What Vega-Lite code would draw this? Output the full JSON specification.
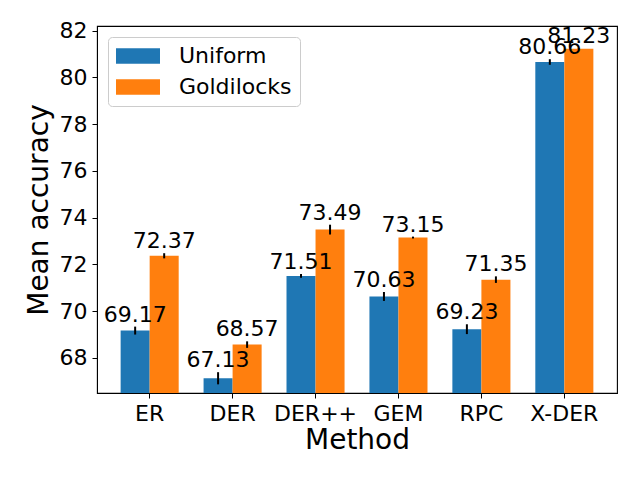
{
  "$schema": "https://vega.github.io/schema/vega-lite/v6.json",
  "width": 520,
  "height": 367,
  "autosize": {"type": "none"},
  "padding": {"left": 97, "top": 26, "right": 23, "bottom": 87},
  "background": "white",
  "config": {
    "font": "DejaVu Sans",
    "view": {"stroke": "black", "strokeWidth": 1.1},
    "axis": {
      "labelFont": "DejaVu Sans",
      "titleFont": "DejaVu Sans",
      "labelFontSize": 22,
      "titleFontSize": 28,
      "titleFontWeight": "normal",
      "labelColor": "black",
      "titleColor": "black",
      "tickColor": "black",
      "domainColor": "black",
      "tickSize": 5,
      "labelPadding": 5,
      "grid": false
    },
    "legend": {
      "labelFont": "DejaVu Sans",
      "labelFontSize": 22,
      "labelColor": "black"
    }
  },
  "data": {
    "values": [
      {"method": "ER", "group": "Uniform", "acc": 69.17, "err": 0.17},
      {"method": "ER", "group": "Goldilocks", "acc": 72.37, "err": 0.11},
      {"method": "DER", "group": "Uniform", "acc": 67.13, "err": 0.26},
      {"method": "DER", "group": "Goldilocks", "acc": 68.57, "err": 0.14},
      {"method": "DER++", "group": "Uniform", "acc": 71.51, "err": 0.08},
      {"method": "DER++", "group": "Goldilocks", "acc": 73.49, "err": 0.21},
      {"method": "GEM", "group": "Uniform", "acc": 70.63, "err": 0.19},
      {"method": "GEM", "group": "Goldilocks", "acc": 73.15, "err": 0.04},
      {"method": "RPC", "group": "Uniform", "acc": 69.23, "err": 0.21},
      {"method": "RPC", "group": "Goldilocks", "acc": 71.35, "err": 0.14},
      {"method": "X-DER", "group": "Uniform", "acc": 80.66, "err": 0.12},
      {"method": "X-DER", "group": "Goldilocks", "acc": 81.23, "err": 0.02}
    ]
  },
  "transform": [
    {"calculate": "datum.acc - datum.err", "as": "lo"},
    {"calculate": "datum.acc + datum.err", "as": "hi"}
  ],
  "encoding": {
    "x": {
      "field": "method",
      "type": "nominal",
      "sort": ["ER", "DER", "DER++", "GEM", "RPC", "X-DER"],
      "scale": {"paddingInner": 0.3, "paddingOuter": 0.285},
      "axis": {"labelAngle": 0, "titlePadding": 2},
      "title": "Method"
    },
    "xOffset": {
      "field": "group",
      "type": "nominal",
      "sort": ["Uniform", "Goldilocks"]
    }
  },
  "layer": [
    {
      "mark": {"type": "bar", "clip": true},
      "encoding": {
        "y": {
          "field": "acc",
          "type": "quantitative",
          "scale": {"domain": [66.5, 82.2], "zero": false, "nice": false},
          "axis": {"values": [68, 70, 72, 74, 76, 78, 80, 82], "titlePadding": 6},
          "title": "Mean accuracy"
        },
        "y2": {"datum": 66.5},
        "color": {
          "field": "group",
          "type": "nominal",
          "sort": ["Uniform", "Goldilocks"],
          "scale": {"domain": ["Uniform", "Goldilocks"], "range": ["#1f77b4", "#ff7f0e"]},
          "legend": {
            "title": null,
            "orient": "none",
            "legendX": 11,
            "legendY": 11,
            "fillColor": "white",
            "strokeColor": "#cccccc",
            "cornerRadius": 4,
            "padding": 8,
            "rowPadding": 9,
            "symbolType": "M-1,-0.71L3,-0.71L3,0.71L-1,0.71Z",
            "symbolSize": 484,
            "symbolStrokeWidth": 0,
            "symbolOpacity": 1,
            "labelOffset": 41
          }
        }
      }
    },
    {
      "mark": {"type": "rule", "color": "black", "strokeWidth": 2},
      "encoding": {
        "y": {"field": "lo", "type": "quantitative"},
        "y2": {"field": "hi"}
      }
    },
    {
      "mark": {"type": "text", "baseline": "bottom", "align": "center", "fontSize": 22, "color": "black", "font": "DejaVu Sans"},
      "encoding": {
        "y": {"field": "hi", "type": "quantitative"},
        "text": {"field": "acc", "type": "quantitative", "format": ".2f"}
      }
    }
  ]
}
